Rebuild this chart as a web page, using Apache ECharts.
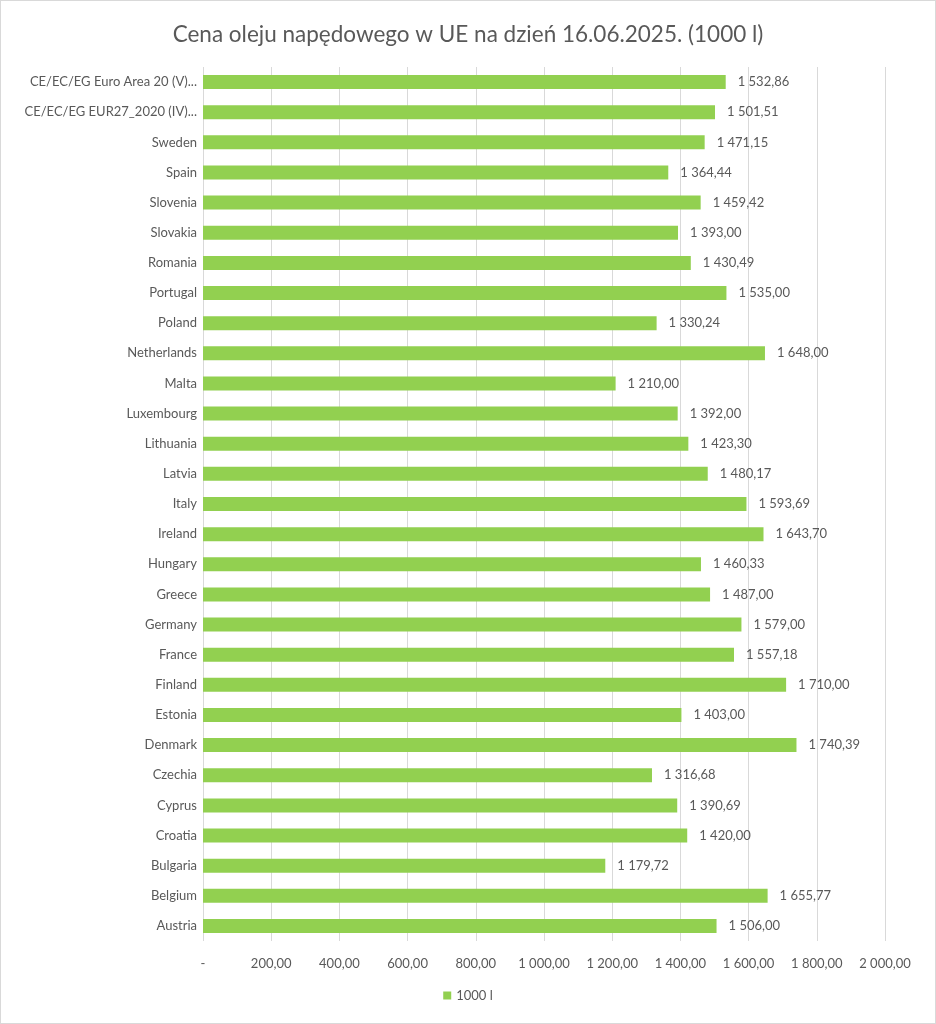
<!DOCTYPE html>
<html><head><meta charset="utf-8">
<script src="https://cdn.jsdelivr.net/npm/echarts@6/dist/echarts.min.js"></script>
<style>
html,body{margin:0;padding:0;background:#fff;}
#c{width:934px;height:1022px;border:1px solid #d9d9d9;}
</style></head>
<body><div id="c"></div>
<script>
const categories = ["CE/EC/EG Euro Area 20 (V)...","CE/EC/EG EUR27_2020 (IV)...","Sweden","Spain","Slovenia","Slovakia","Romania","Portugal","Poland","Netherlands","Malta","Luxembourg","Lithuania","Latvia","Italy","Ireland","Hungary","Greece","Germany","France","Finland","Estonia","Denmark","Czechia","Cyprus","Croatia","Bulgaria","Belgium","Austria"];
const values = [1532.86,1501.51,1471.15,1364.44,1459.42,1393.00,1430.49,1535.00,1330.24,1648.00,1210.00,1392.00,1423.30,1480.17,1593.69,1643.70,1460.33,1487.00,1579.00,1557.18,1710.00,1403.00,1740.39,1316.68,1390.69,1420.00,1179.72,1655.77,1506.00];
const seriesName = "1000 l";
const titleText = "Cena oleju napędowego w UE na dzień 16.06.2025. (1000 l)";

function fmt(v){
  const s = v.toFixed(2).split('.');
  const ip = s[0].replace(/\B(?=(\d{3})+(?!\d))/g,' ');
  return ip + ',' + s[1];
}
const FONT = 'Lato';
const chart = echarts.init(document.getElementById('c'));
chart.setOption({
  animation:false,
  title:{text:titleText,left:'center',top:17,textStyle:{color:'#595959',fontSize:22.5,fontWeight:'normal',fontFamily:FONT}},
  grid:{left:202,right:50,top:66,bottom:82},
  legend:{bottom:16,left:'center',itemWidth:8,itemHeight:8,icon:'rect',textStyle:{color:'#595959',fontSize:13,fontFamily:FONT},data:[seriesName]},
  xAxis:{type:'value',min:0,max:2000,interval:200,
    axisLine:{show:false},axisTick:{show:false},
    splitLine:{show:true,lineStyle:{color:'#d9d9d9',width:1}},
    axisLabel:{color:'#595959',fontSize:13,fontFamily:FONT,margin:16,formatter:v=>v===0?'-':fmt(v)}},
  yAxis:{type:'category',data:categories,inverse:true,
    axisLine:{show:false},axisTick:{show:false},
    axisLabel:{color:'#595959',fontSize:13,fontFamily:FONT,margin:6}},
  series:[{name:seriesName,type:'bar',data:values,barWidth:14,
    itemStyle:{color:'#92d050'},
    label:{show:true,position:'right',distance:12,color:'#595959',fontSize:13,fontFamily:FONT,formatter:p=>fmt(p.value)}}]
});
</script></body></html>
